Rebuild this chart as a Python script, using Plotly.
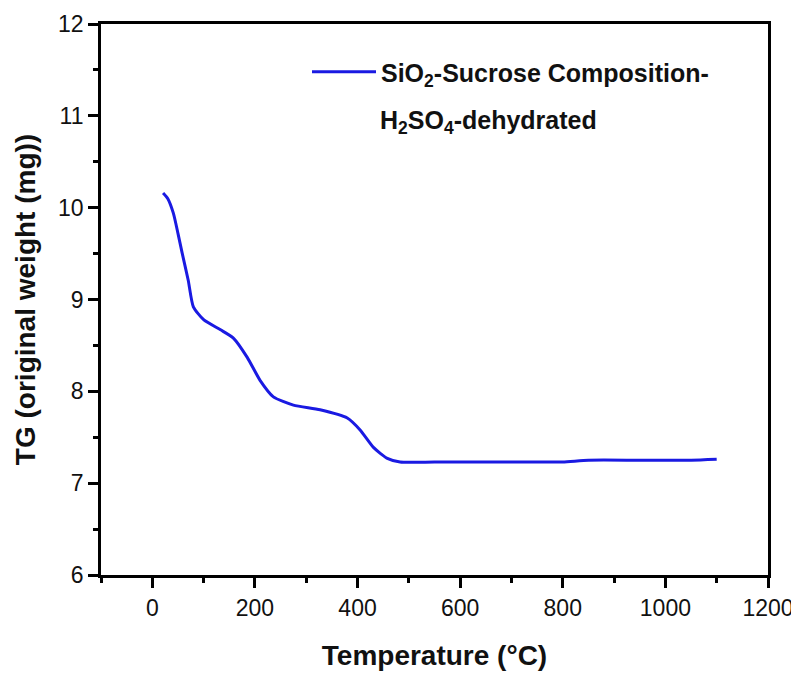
import plotly.graph_objects as go

temperature = [21, 30, 41, 50, 58, 70, 80, 100, 133, 158, 185, 210, 236, 275, 327, 380, 405, 431, 458, 483,
               550, 650, 750, 800, 850, 950, 1050, 1100]
tg_weight = [10.16, 10.10, 9.94, 9.72, 9.51, 9.21, 8.92, 8.78, 8.67, 8.58, 8.37, 8.12, 7.94, 7.85, 7.80, 7.71,
             7.58, 7.39, 7.27, 7.23, 7.23, 7.23, 7.23, 7.23, 7.25, 7.25, 7.25, 7.26]

x_ticks = [0, 200, 400, 600, 800, 1000, 1200]
y_ticks = [6, 7, 8, 9, 10, 11, 12]

FONT = "Liberation Sans, Arial, sans-serif"

# page pixel geometry (page body has an 8px margin)
PLOT_L, PLOT_R, PLOT_T, PLOT_B = 101, 768, 24, 575


def px_to_paper(px, py):
    return (px - PLOT_L) / (PLOT_R - PLOT_L), (PLOT_B - py) / (PLOT_B - PLOT_T)


fig = go.Figure()
fig.add_trace(go.Scatter(
    x=temperature, y=tg_weight, mode="lines",
    line=dict(color="#1a1ae2", width=3, shape="spline", smoothing=0.6),
    name="<b>SiO<sub>2</sub>-Sucrose Composition-</b>",
))

axis_common = dict(
    showline=True, linecolor="black", linewidth=2.8, mirror=True,
    ticks="outside", tickcolor="black", tickwidth=2.5, ticklen=10,
    showgrid=False, zeroline=False,
    tickfont=dict(family=FONT, size=23, color="#111"),
)

fig.update_xaxes(
    range=[-100, 1200], tickvals=x_ticks, automargin="bottom",
    minor=dict(dtick=100, tick0=0, ticks="outside", ticklen=5, tickwidth=2.5, tickcolor="black"),
    title=dict(text="<b>Temperature (°C)</b>", font=dict(family=FONT, size=28, color="#111"), standoff=26),
    **axis_common,
)
fig.update_yaxes(
    range=[6, 12], tickvals=y_ticks, automargin="left",
    minor=dict(dtick=0.5, tick0=6, ticks="outside", ticklen=5, tickwidth=2.5, tickcolor="black"),
    title=dict(text="<b>TG (original weight (mg))</b>", font=dict(family=FONT, size=28, color="#111"), standoff=15),
    **axis_common,
)

ax, ay = px_to_paper(380, 122)
fig.add_annotation(
    x=ax, y=ay, xref="paper", yref="paper", showarrow=False,
    text="<b>H<sub>2</sub>SO<sub>4</sub>-dehydrated</b>",
    font=dict(family=FONT, size=25, color="#111"),
    xanchor="left", yanchor="middle", xshift=-2,
)

lx, ly = px_to_paper(307, 72)
fig.update_layout(
    width=791, height=673,
    margin=dict(l=PLOT_L - 8, r=8 + 791 - PLOT_R, t=PLOT_T - 8, b=8 + 673 - PLOT_B, autoexpand=False),
    plot_bgcolor="white", paper_bgcolor="white",
    showlegend=True,
    legend=dict(x=lx, y=ly, xanchor="left", yanchor="middle",
                font=dict(family=FONT, size=25, color="#111"),
                bgcolor="rgba(0,0,0,0)", itemwidth=64),
)

fig.write_html("out.html")
